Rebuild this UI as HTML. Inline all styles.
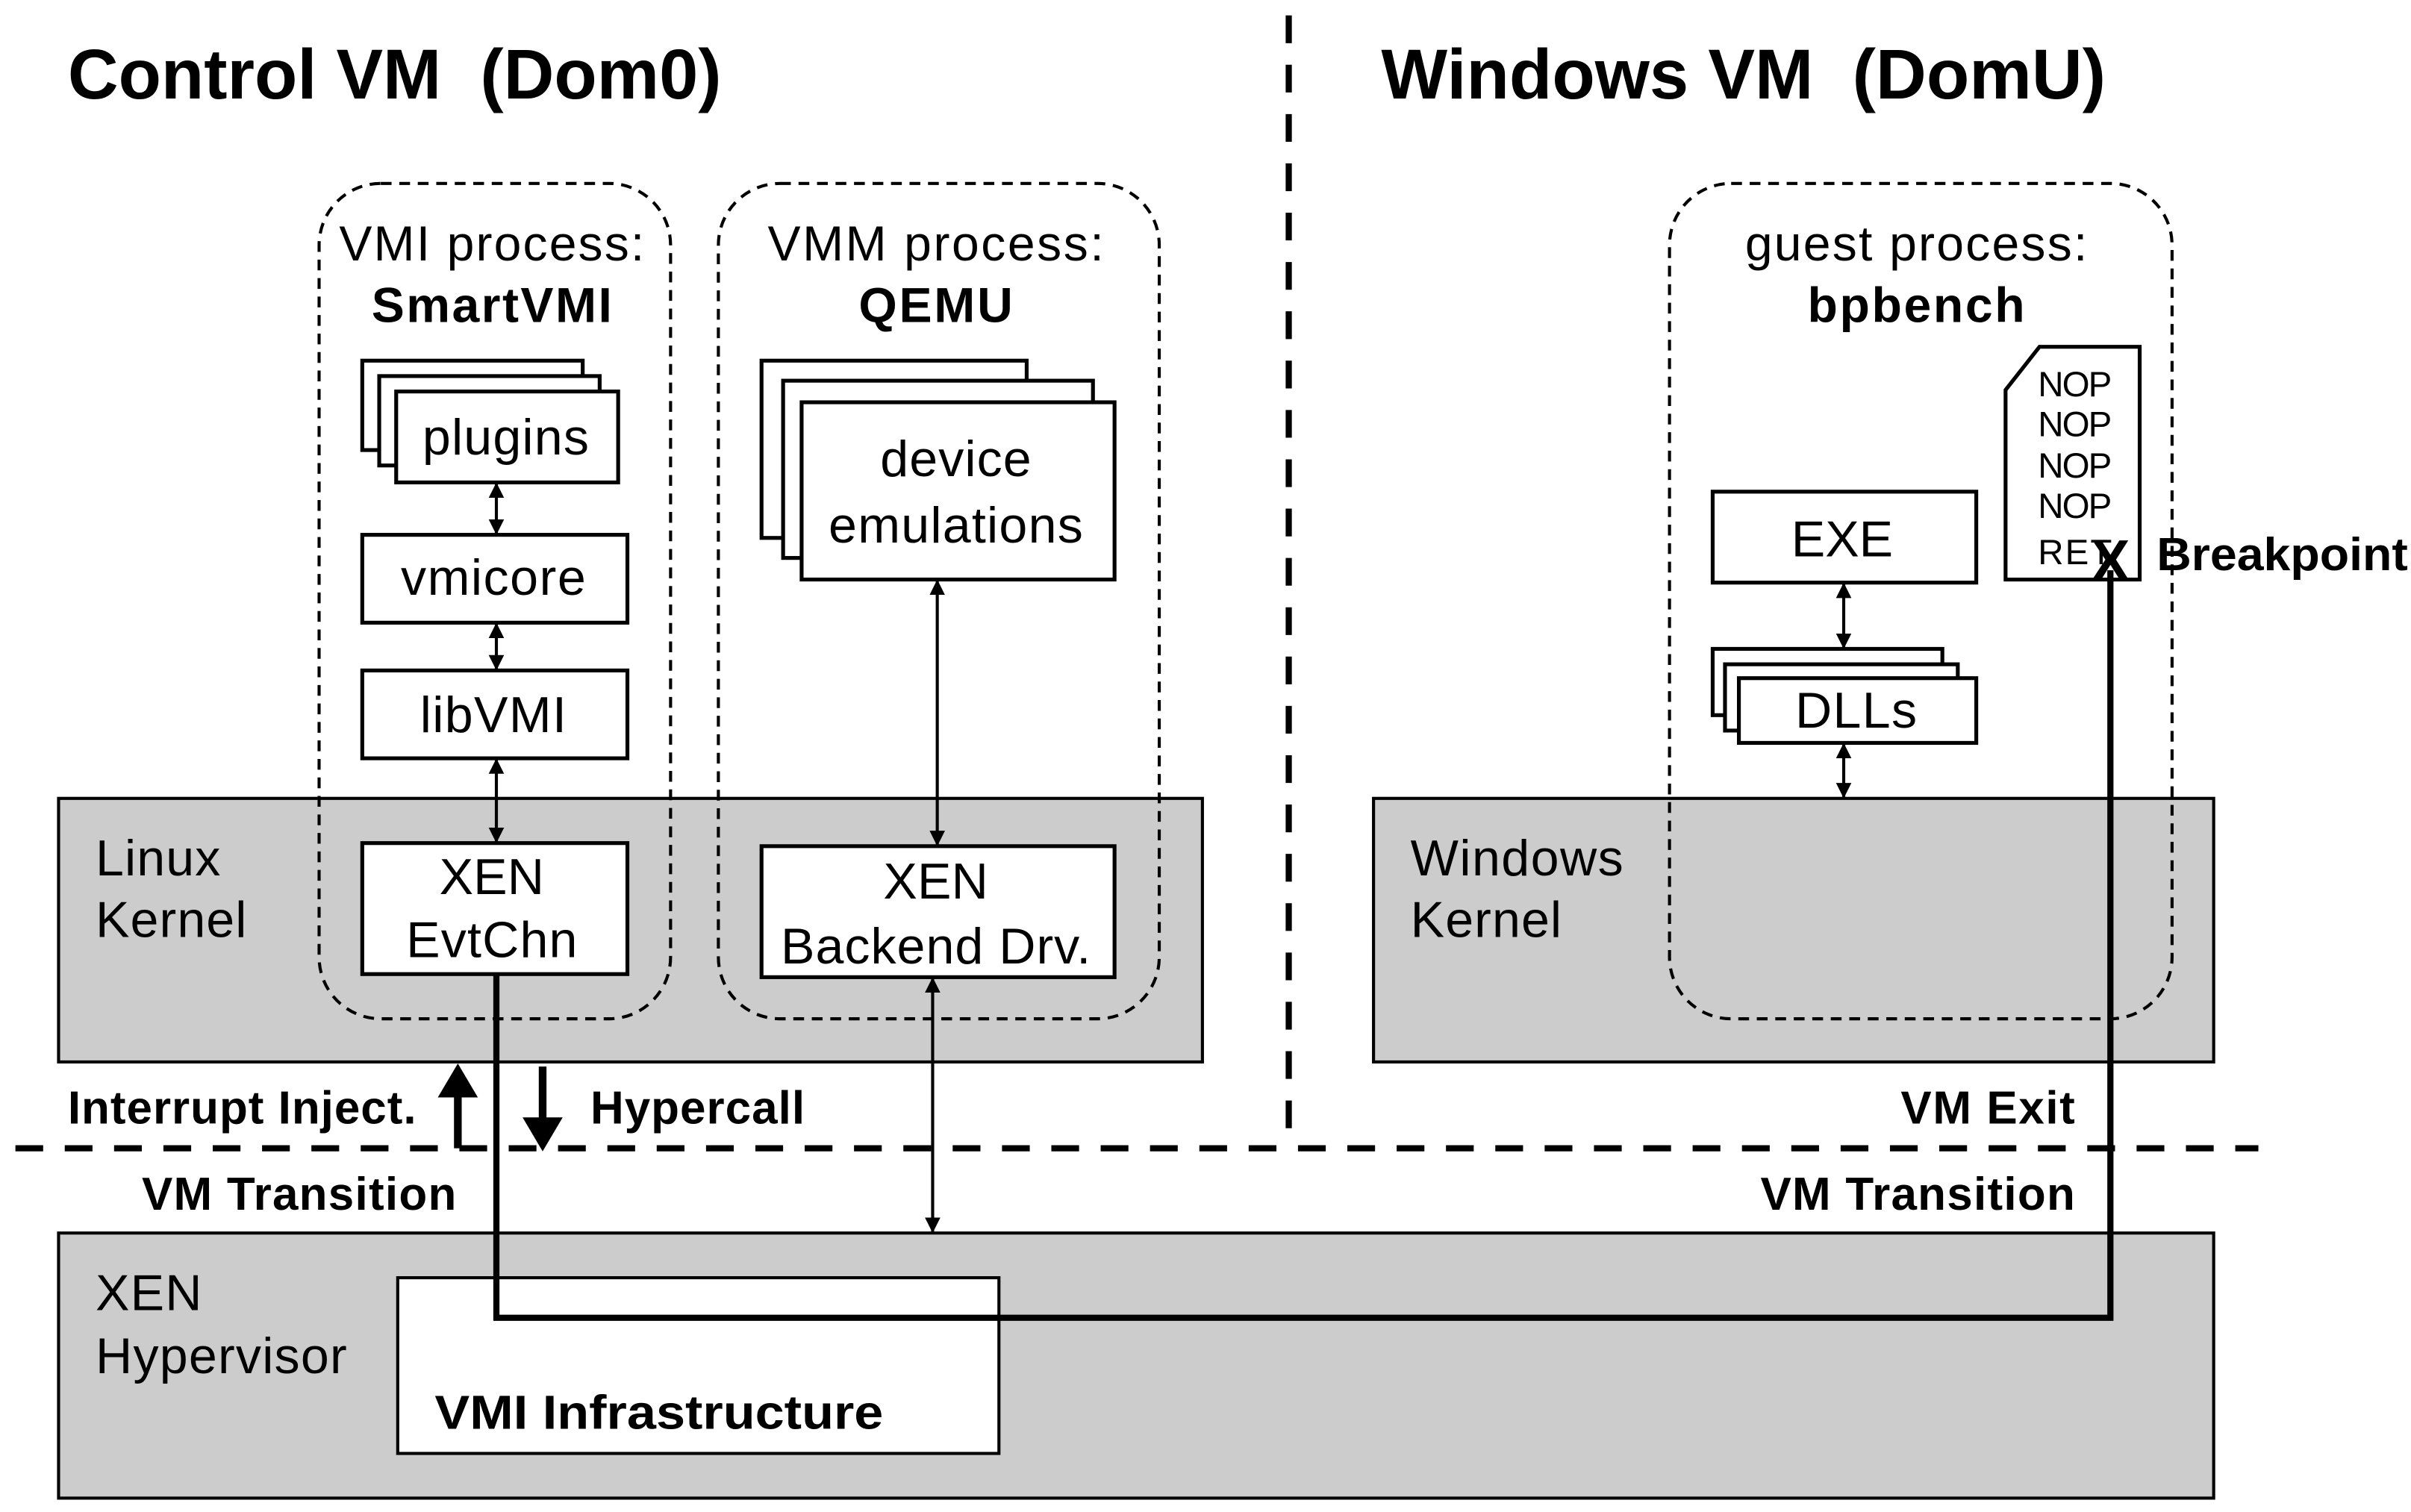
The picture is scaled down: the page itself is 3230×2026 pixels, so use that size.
<!DOCTYPE html>
<html><head><meta charset="utf-8"><style>html,body{margin:0;padding:0;background:#fff}svg{display:block}</style></head>
<body>
<svg width="3230" height="2026" viewBox="0 0 1564 981" preserveAspectRatio="none" xmlns="http://www.w3.org/2000/svg" font-family="Liberation Sans, Arial, sans-serif">
<defs>
<marker id="a" viewBox="0 0 10 10" refX="9" refY="5" markerWidth="5" markerHeight="5" orient="auto-start-reverse"><path d="M0,0 L10,5 L0,10 z" fill="#000"/></marker>
</defs>
<rect width="1564" height="981" fill="#fff"/>
<text x="44" y="64" font-size="46" font-weight="bold" textLength="424" lengthAdjust="spacingAndGlyphs">Control VM&#160;&#160;(Dom0)</text>
<text x="896" y="64" font-size="46" font-weight="bold" textLength="470" lengthAdjust="spacingAndGlyphs">Windows VM&#160;&#160;(DomU)</text>
<line x1="836" y1="10" x2="836" y2="745" stroke="#000" stroke-width="4" stroke-dasharray="18,14"/>
<rect x="38" y="518" width="742" height="171" fill="#ccc" stroke="#000" stroke-width="2"/>
<rect x="891" y="518" width="545" height="171" fill="#ccc" stroke="#000" stroke-width="2"/>
<rect x="38" y="800" width="1398" height="172" fill="#ccc" stroke="#000" stroke-width="2"/>
<rect x="258" y="829" width="390" height="114" fill="#fff" stroke="#000" stroke-width="2"/>
<text x="282" y="927" font-size="31" font-weight="bold" textLength="291" lengthAdjust="spacingAndGlyphs">VMI Infrastructure</text>
<line x1="10" y1="745" x2="1465" y2="745" stroke="#000" stroke-width="4" stroke-dasharray="18,14"/>
<g fill="none" stroke="#000" stroke-width="2" stroke-dasharray="7,5">
<rect x="207" y="119" width="228" height="542" rx="40"/>
<rect x="466" y="119" width="286" height="542" rx="40"/>
<rect x="1083" y="119" width="326" height="542" rx="40"/>
</g>
<g font-size="33" lengthAdjust="spacingAndGlyphs">
<text x="62" y="568" textLength="81">Linux</text><text x="62" y="608" textLength="98">Kernel</text>
<text x="915" y="568" textLength="138">Windows</text><text x="915" y="608" textLength="98">Kernel</text>
<text x="62" y="850" textLength="69">XEN</text><text x="62" y="891" textLength="163">Hypervisor</text>
</g>
<g font-size="32" text-anchor="middle" lengthAdjust="spacingAndGlyphs">
<text x="319" y="169" textLength="198">VMI process:</text>
<text x="319" y="209" font-weight="bold" textLength="156">SmartVMI</text>
<text x="607" y="169" textLength="218">VMM process:</text>
<text x="607" y="209" font-weight="bold" textLength="100">QEMU</text>
<text x="1243" y="169" textLength="222">guest process:</text>
<text x="1243" y="209" font-weight="bold" textLength="141">bpbench</text>
</g>
<g fill="#fff" stroke="#000" stroke-width="2.5">
<rect x="235" y="234" width="143" height="58"/>
<rect x="246" y="244" width="143" height="58"/>
<rect x="257" y="254" width="144" height="59"/>
<rect x="235" y="347" width="172" height="57"/>
<rect x="235" y="435" width="172" height="57"/>
<rect x="235" y="547" width="172" height="85"/>
<rect x="494" y="234" width="172" height="115"/>
<rect x="508" y="247" width="201" height="115"/>
<rect x="520" y="261" width="203" height="115"/>
<rect x="494" y="549" width="229" height="85"/>
<rect x="1111" y="319" width="171" height="59"/>
<rect x="1111" y="421" width="149" height="43"/>
<rect x="1119" y="431" width="151" height="43"/>
<rect x="1128" y="440" width="154" height="42"/>
<polygon points="1301,253 1323,225 1388,225 1388,376 1301,376"/>
</g>
<g font-size="33" text-anchor="middle" lengthAdjust="spacingAndGlyphs">
<text x="328" y="295" textLength="108">plugins</text>
<text x="320" y="386" textLength="120">vmicore</text>
<text x="320" y="475" textLength="95">libVMI</text>
<text x="319" y="580" textLength="68">XEN</text>
<text x="319" y="621" textLength="111">EvtChn</text>
<text x="620" y="309" textLength="98">device</text>
<text x="620" y="352" textLength="165">emulations</text>
<text x="607" y="583" textLength="68">XEN</text>
<text x="607" y="625" textLength="201">Backend Drv.</text>
<text x="1195" y="361" textLength="66">EXE</text>
<text x="1204" y="472" textLength="79">DLLs</text>
</g>
<g font-size="23" lengthAdjust="spacingAndGlyphs">
<text x="1322" y="257" textLength="48">NOP</text>
<text x="1322" y="283" textLength="48">NOP</text>
<text x="1322" y="310" textLength="48">NOP</text>
<text x="1322" y="336" textLength="48">NOP</text>
<text x="1322" y="366" textLength="48">RET</text>
</g>
<polyline points="322,632 322,855 1369,855 1369,370" fill="none" stroke="#000" stroke-width="4"/>
<text x="1369" y="377" font-size="38" font-weight="bold" text-anchor="middle">X</text>
<text x="1399" y="370" font-size="30" font-weight="bold" textLength="163" lengthAdjust="spacingAndGlyphs">Breakpoint</text>
<g stroke="#000" stroke-width="2" marker-start="url(#a)" marker-end="url(#a)">
<line x1="322" y1="314" x2="322" y2="346"/>
<line x1="322" y1="405" x2="322" y2="434"/>
<line x1="322" y1="493" x2="322" y2="546"/>
<line x1="608" y1="377" x2="608" y2="548"/>
<line x1="605" y1="635" x2="605" y2="799"/>
<line x1="1196" y1="379" x2="1196" y2="420"/>
<line x1="1196" y1="483" x2="1196" y2="517"/>
</g>
<line x1="297" y1="745" x2="297" y2="710" stroke="#000" stroke-width="5"/>
<polygon points="284,712 297,690 310,712" fill="#000"/>
<line x1="352" y1="692" x2="352" y2="727" stroke="#000" stroke-width="5"/>
<polygon points="339,725 352,747 365,725" fill="#000"/>
<g font-size="30" font-weight="bold" lengthAdjust="spacingAndGlyphs">
<text x="44" y="729" textLength="226">Interrupt Inject.</text>
<text x="383" y="729" textLength="139">Hypercall</text>
<text x="1233" y="729" textLength="113">VM Exit</text>
<text x="92" y="785" textLength="204">VM Transition</text>
<text x="1142" y="785" textLength="204">VM Transition</text>
</g>
</svg>
</body></html>
